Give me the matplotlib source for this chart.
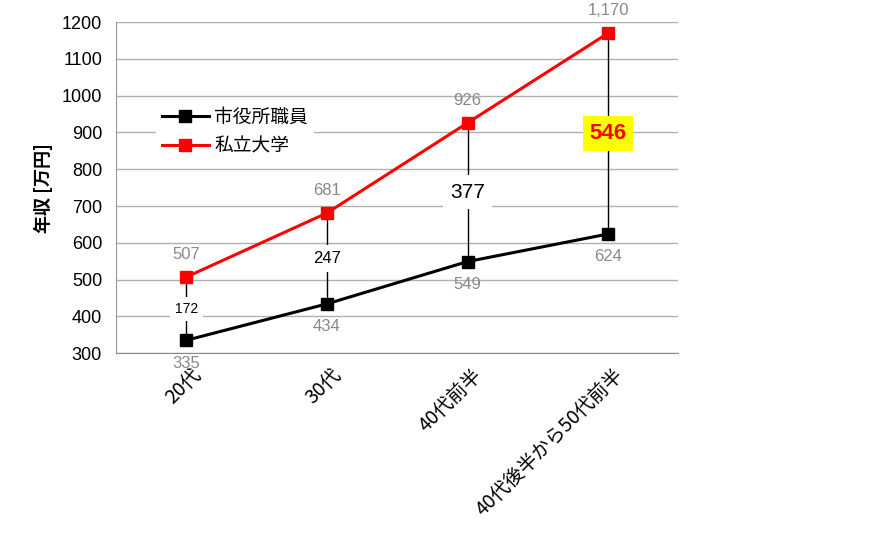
import matplotlib
matplotlib.use("Agg")
import matplotlib.pyplot as plt
import matplotlib.transforms as mtransforms

plt.rcParams['font.family'] = ['Noto Sans CJK JP', 'DejaVu Sans']

categories = ["20代", "30代", "40代前半", "40代後半から50代前半"]
city_staff = [335, 434, 549, 624]
private_univ = [507, 681, 926, 1170]
series_names = ["市役所職員", "私立大学"]
yticks = [300, 400, 500, 600, 700, 800, 900, 1000, 1100, 1200]

LAT = ['Liberation Sans', 'DejaVu Sans']

fig = plt.figure(figsize=(8.72, 5.4), dpi=100)
ax = fig.add_axes([0.133, 0.346, 0.645, 0.613])

x = list(range(len(categories)))

# connecting vertical lines
for i in x:
    ax.plot([i, i], [city_staff[i], private_univ[i]], color='black', lw=1, zorder=2)

ax.plot(x, city_staff, color='black', lw=2.2, marker='s', markersize=8, label=series_names[0], zorder=3)
ax.plot(x, private_univ, color='#ff0000', lw=2.2, marker='s', markersize=8, label=series_names[1], zorder=3)

# value labels
for i in x:
    ax.annotate(f"{private_univ[i]:,}", (i, private_univ[i]), xytext=(0, 11), textcoords='offset points',
                ha='center', va='bottom', color='#888888', fontsize=12, family=LAT)
    ax.annotate(f"{city_staff[i]:,}", (i, city_staff[i]), xytext=(0, -11), textcoords='offset points',
                ha='center', va='top', color='#888888', fontsize=12, family=LAT)

# difference labels
sizes = [10, 12, 15, 16]
for i in x:
    diff = private_univ[i] - city_staff[i]
    mid = (private_univ[i] + city_staff[i]) / 2
    if i == len(x) - 1:
        ax.text(i, mid, f"{diff}", ha='center', va='center', fontsize=sizes[i], fontweight='bold',
                color='#ff0000', family=LAT,
                bbox=dict(boxstyle='square,pad=0.3', fc='#ffff00', ec='none'), zorder=5)
    else:
        ax.text(i, mid, f"{diff}", ha='center', va='center', fontsize=sizes[i],
                color='black', family=LAT,
                bbox=dict(boxstyle='square,pad=0.35', fc='white', ec='none'), zorder=5)

ax.set_xlim(-0.5, len(categories) - 0.5)
ax.set_ylim(300, 1200)
ax.set_yticks(yticks)
ax.set_yticklabels([str(v) for v in yticks], family=LAT, fontsize=13)
ax.set_xticks(x)
ax.set_xticklabels(categories, rotation=45, ha='right', rotation_mode='anchor', fontsize=14)
ax.tick_params(axis='both', length=0)
ax.tick_params(axis='x', pad=8)
ax.tick_params(axis='y', pad=10)
offset = mtransforms.ScaledTranslation(3 / 72, 0, fig.dpi_scale_trans)
for lab in ax.get_xticklabels():
    lab.set_transform(lab.get_transform() + offset)

ax.grid(axis='y', color='#b0b0b0', lw=1)
ax.set_axisbelow(True)
for s in ['top', 'right']:
    ax.spines[s].set_visible(False)
ax.spines['left'].set_color('#999999')
ax.spines['bottom'].set_color('#888888')

ax.set_ylabel("年収 [万円]", fontsize=13, fontweight='bold', labelpad=6)

leg = ax.legend(loc='upper left', bbox_to_anchor=(0.055, 0.79), frameon=True, fontsize=13.5,
                handlelength=2.5, handletextpad=0.3, borderpad=0.3, labelspacing=0.4)
leg.get_frame().set_facecolor('white')
leg.get_frame().set_edgecolor('none')
leg.get_frame().set_alpha(1)

fig.savefig("out.png", dpi=100)
